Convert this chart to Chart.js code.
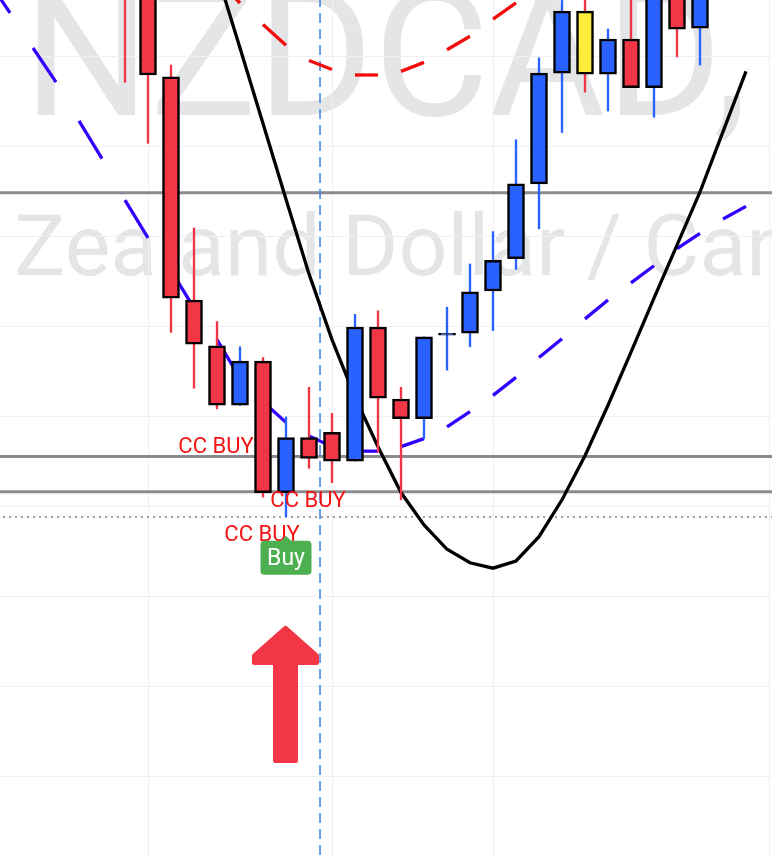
<!DOCTYPE html>
<html><head><meta charset="utf-8">
<script src="https://cdn.jsdelivr.net/npm/chart.js@4.4.1/dist/chart.umd.min.js"></script>
<style>html,body{margin:0;padding:0;background:#fff;overflow:hidden}canvas{display:block}</style>
</head><body>
<canvas id="c" width="772" height="856"></canvas>
<script>
// ---- DATA ----
const candleIdx = [0,1,2,3,4,5,6,7,8,9,10,11,12,13,14,15,16,17,18,19,20,21,22,23,24,25];
const open  = [0.83030,0.82997,0.82878,0.82630,0.82579,0.82513,0.82562,0.82416,0.82477,0.82483,0.82451,0.82600,0.82520,0.82498,0.82591,0.82593,0.82640,0.82676,0.82759,0.82882,0.82951,0.82881,0.82920,0.82866,0.82997,0.82932];
const high  = [0.83074,0.83019,0.82891,0.82710,0.82606,0.82578,0.82566,0.82500,0.82533,0.82504,0.82614,0.82618,0.82533,0.82589,0.82622,0.82670,0.82706,0.82808,0.82899,0.82980,0.82974,0.82931,0.82969,0.83008,0.83013,0.83002];
const low   = [0.82872,0.82804,0.82594,0.82532,0.82509,0.82513,0.82411,0.82389,0.82443,0.82427,0.82451,0.82461,0.82408,0.82476,0.82552,0.82578,0.82596,0.82664,0.82709,0.82816,0.82861,0.82840,0.82866,0.82833,0.82900,0.82891];
const close = [0.82986,0.82880,0.82632,0.82581,0.82513,0.82562,0.82416,0.82477,0.82454,0.82451,0.82600,0.82521,0.82498,0.82589,0.82593,0.82639,0.82674,0.82759,0.82882,0.82951,0.82881,0.82920,0.82866,0.82986,0.82931,0.82986];
const highlighted = [20];

const maIdx = [-6,-5,-4,-3,-2,-1,0,1,2,3,4,5,6,7,8,9,10,11,12,13,14,15,16,17,18,19,20,21,22,23,24,25,26,27,28];
const maValues = [0.82987,0.82949,0.82910,0.82872,0.82829,0.82787,0.82741,0.82699,0.82663,0.82621,0.82586,0.82543,0.82517,0.82494,0.82479,0.82467,0.82462,0.82462,0.82467,0.82476,0.82489,0.82506,0.82524,0.82544,0.82566,0.82587,0.82609,0.82630,0.82649,0.82668,0.82687,0.82704,0.82720,0.82734,0.82748];

const trendIdx = [4,5,6,7,8,9,10,11,12,13,14,15,16,17,18,19];
const trendValues = [0.82986,0.82960,0.82936,0.82913,0.82896,0.82886,0.82880,0.82880,0.82884,0.82894,0.82908,0.82923,0.82942,0.82960,0.82980,0.83002];

const curveIdx = [4,5,6,7,8,9,10,11,12,13,14,15,16,17,18,19,20,21,22,23,24,25,26,27];
const curveValues = [0.82993,0.82910,0.82826,0.82742,0.82659,0.82586,0.82522,0.82467,0.82416,0.82380,0.82353,0.82338,0.82332,0.82340,0.82367,0.82408,0.82457,0.82513,0.82572,0.82632,0.82691,0.82750,0.82817,0.82884];

const levels = [0.82749, 0.82456, 0.82417];
const lastPrice = 0.82389;
const signalTime = 8.48;

const yGridTicks = [0.821,0.822,0.823,0.824,0.825,0.826,0.827,0.828,0.829];
const xGridTicks = [1, 9, 16, 28];

const signalLabels = [
  {text:'CC BUY', at:4, price:0.82460},
  {text:'CC BUY', at:8, price:0.82400},
  {text:'CC BUY', at:6, price:0.82362}
];
const buyMarker = {text:'Buy', at:7, price:0.82368};
const arrowMarker = {at:7, price:0.82269};

const watermarkTitle = 'NZDCAD,';
const watermarkSubtitle = 'New Zealand Dollar / Canadian Dollar';

// ---- STYLE ----
const UP = '#2962ff', DOWN = '#f23645', HIGHLIGHT = '#ffeb3b';
const bodyColors = candleIdx.map((_, i) => highlighted.includes(i) ? HIGHLIGHT : (close[i] >= open[i] ? UP : DOWN));
const wickColors = candleIdx.map((_, i) => close[i] >= open[i] ? UP : DOWN);
const alt = color => ({ borderColor: ctx => ctx.p0DataIndex % 2 === 0 ? color : 'rgba(0,0,0,0)' });

const lineDs = (data, color, width, order, extra) => Object.assign({
  type: 'line', data, borderColor: color, borderWidth: width, pointRadius: 0,
  tension: 0, fill: false, order
}, extra || {});

const datasets = [
  { type:'bar', data: candleIdx.map((x,i)=>({x, y:[open[i], close[i]]})),
    backgroundColor: bodyColors, borderColor:'#000', borderWidth:2.5, borderSkipped:false,
    barThickness:17, grouped:false, order:0 },
  { type:'bar', data: candleIdx.map((x,i)=>({x, y:[low[i], high[i]]})),
    backgroundColor: wickColors, borderWidth:0, barThickness:1.7, grouped:false, order:1 },
  lineDs(curveIdx.map((x,i)=>({x, y:curveValues[i]})), '#000', 3.3, 2),
  lineDs(trendIdx.map((x,i)=>({x, y:trendValues[i]})), '#f20d0d', 3.3, 3, {segment: alt('#f20d0d')}),
  lineDs(maIdx.map((x,i)=>({x, y:maValues[i]})), '#3300ff', 3.3, 4, {segment: alt('#3300ff')}),
  lineDs([{x:signalTime, y:0.81},{x:signalTime, y:0.84}], '#4a86e8', 1.6, 5, {borderDash:[10,6]}),
  ...levels.map(v => lineDs([{x:-10,y:v},{x:40,y:v}], '#8a8b90', 3, 6)),
  lineDs([{x:-10,y:lastPrice},{x:40,y:lastPrice}], '#7b7d85', 1.5, 6, {borderDash:[2,4]})
];

const bgPlugin = {
  id:'bg',
  beforeDraw(chart) {
    const ctx = chart.ctx;
    ctx.save();
    ctx.fillStyle = '#fff';
    ctx.fillRect(0,0,chart.width,chart.height);
    ctx.fillStyle = 'rgba(121,123,134,0.2)';
    ctx.textAlign = 'left';
    ctx.textBaseline = 'alphabetic';
    // title
    ctx.font = '100px Roboto';
    let m = ctx.measureText('NZDCAD');
    const s = 100 * 675 / (m.actualBoundingBoxLeft + m.actualBoundingBoxRight);
    ctx.font = s + 'px Roboto';
    m = ctx.measureText(watermarkTitle);
    ctx.fillText(watermarkTitle, 37 + m.actualBoundingBoxLeft, 115);
    // subtitle
    ctx.font = '86px Roboto';
    const pre = ctx.measureText('New ').width;
    const mz = ctx.measureText('Z');
    ctx.fillText(watermarkSubtitle, 17 - pre + mz.actualBoundingBoxLeft, 275);
    ctx.restore();
  }
};

const annPlugin = {
  id:'ann',
  afterDatasetsDraw(chart) {
    const ctx = chart.ctx, xs = chart.scales.x, ys = chart.scales.y;
    ctx.save();
    ctx.font = '22px Roboto';
    ctx.fillStyle = '#f21515';
    ctx.textAlign = 'center';
    ctx.textBaseline = 'alphabetic';
    signalLabels.forEach(l => ctx.fillText(l.text, xs.getPixelForValue(l.at) - 1, ys.getPixelForValue(l.price)));
    // Buy label
    const bx = xs.getPixelForValue(buyMarker.at), by = ys.getPixelForValue(buyMarker.price);
    const w = 51, h = 34, top = by + 5;
    ctx.fillStyle = '#4caf50';
    ctx.beginPath();
    ctx.roundRect(bx - w/2, top, w, h, 4);
    ctx.fill();
    ctx.beginPath();
    ctx.moveTo(bx - 6, top + 1); ctx.lineTo(bx, by); ctx.lineTo(bx + 6, top + 1); ctx.closePath();
    ctx.fill();
    ctx.fillStyle = '#fff';
    ctx.font = '23px Roboto';
    ctx.textBaseline = 'middle';
    ctx.fillText(buyMarker.text, bx, top + h/2 + 1);
    // arrow
    const ax = xs.getPixelForValue(arrowMarker.at) - 0.5, ay = ys.getPixelForValue(arrowMarker.price);
    ctx.fillStyle = ctx.strokeStyle = '#f23645';
    ctx.lineWidth = 5; ctx.lineJoin = 'round';
    ctx.beginPath();
    const pts = [[0,3.5],[31,31],[31,37.5],[10,37.5],[10,135.5],[-10,135.5],[-10,37.5],[-31,37.5],[-31,31]];
    pts.forEach((p,i) => i ? ctx.lineTo(ax+p[0], ay+p[1]) : ctx.moveTo(ax+p[0], ay+p[1]));
    ctx.closePath();
    ctx.fill(); ctx.stroke();
    ctx.restore();
  }
};

new Chart(document.getElementById('c'), {
  type:'bar',
  data:{ datasets },
  options:{
    responsive:false, animation:false, devicePixelRatio:1, events:[],
    layout:{ padding:0 },
    plugins:{ legend:{display:false}, tooltip:{enabled:false} },
    scales:{
      x:{ type:'linear', min:-125/23, max:647/23, offset:false,
          grid:{ offset:false, color:'#eff0f3', lineWidth:1, drawTicks:false },
          border:{display:false}, ticks:{display:false},
          afterBuildTicks: s => { s.ticks = xGridTicks.map(v=>({value:v})); } },
      y:{ type:'linear', min:0.820122, max:0.829633, beginAtZero:false,
          grid:{ color:'#eff0f3', lineWidth:1, drawTicks:false },
          border:{display:false}, ticks:{display:false},
          afterBuildTicks: s => { s.ticks = yGridTicks.map(v=>({value:v})); } }
    }
  },
  plugins:[bgPlugin, annPlugin]
});
</script>
</body></html>
